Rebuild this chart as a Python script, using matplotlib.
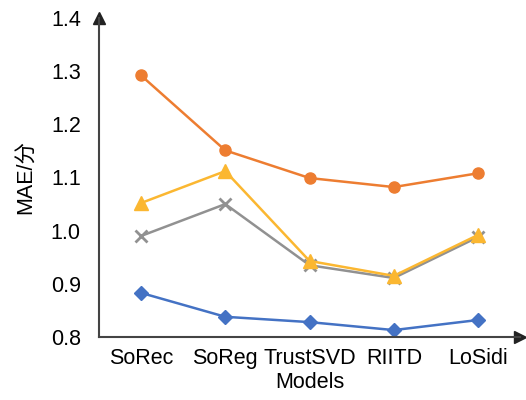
import matplotlib.pyplot as plt

plt.rcParams['font.family'] = ['Liberation Sans', 'Noto Sans CJK SC', 'DejaVu Sans']

# data
models = ["SoRec", "SoReg", "TrustSVD", "RIITD", "LoSidi"]
blue_vals = [0.883, 0.838, 0.828, 0.813, 0.832]
orange_vals = [1.292, 1.151, 1.099, 1.082, 1.108]
gray_vals = [0.990, 1.050, 0.935, 0.911, 0.988]
yellow_vals = [1.052, 1.112, 0.943, 0.915, 0.992]

x = range(len(models))

fig = plt.figure(figsize=(5.26, 4.0), dpi=100)
ax = fig.add_axes([0.188, 0.1575, 0.801, 0.7975])

ax.plot(x, blue_vals, color="#4472C4", marker="D", markersize=7, linewidth=1.8)
ax.plot(x, orange_vals, color="#ED7D31", marker="o", markersize=8, linewidth=1.8)
ax.plot(x, gray_vals, color="#919191", marker="x", markersize=9, markeredgewidth=2, linewidth=1.8)
ax.plot(x, yellow_vals, color="#FBB731", marker="^", markersize=10, linewidth=1.8)

ax.set_xlim(-0.5, 4.5)
ax.set_ylim(0.8, 1.4)
ax.set_xticks(list(x))
ax.set_xticklabels(models)
ax.set_yticks([0.8, 0.9, 1.0, 1.1, 1.2, 1.3, 1.4])
ax.set_yticklabels(["0.8", "0.9", "1.0", "1.1", "1.2", "1.3", "1.4"])
ax.tick_params(axis="both", length=0, labelsize=15.5)
ax.tick_params(axis="y", pad=13)
ax.tick_params(axis="x", pad=8)

ax.set_xlabel("Models", fontsize=15.5, labelpad=2)
ax.set_ylabel("MAE/分", fontsize=15.5, labelpad=10)

for s in ["top", "right"]:
    ax.spines[s].set_visible(False)
for s in ["left", "bottom"]:
    ax.spines[s].set_color("#444444")
    ax.spines[s].set_linewidth(1.5)

# arrow heads on the axes
ax.plot(1, 0, ">", color="#222222", markersize=9, transform=ax.transAxes, clip_on=False)
ax.plot(0, 1, "^", color="#222222", markersize=9, transform=ax.transAxes, clip_on=False)

fig.savefig("out.png", dpi=100)
